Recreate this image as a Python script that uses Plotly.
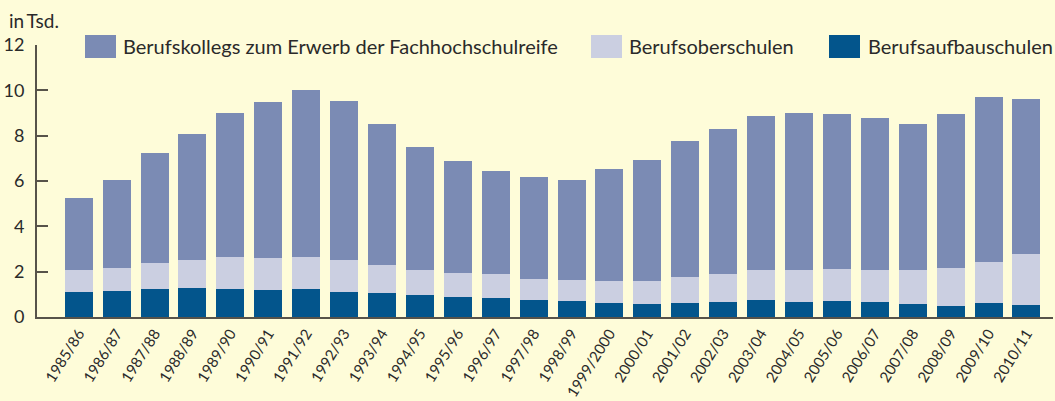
import plotly.graph_objects as go

years = ["1985/86", "1986/87", "1987/88", "1988/89", "1989/90", "1990/91", "1991/92",
         "1992/93", "1993/94", "1994/95", "1995/96", "1996/97", "1997/98", "1998/99",
         "1999/2000", "2000/01", "2001/02", "2002/03", "2003/04", "2004/05", "2005/06",
         "2006/07", "2007/08", "2008/09", "2009/10", "2010/11"]

# Berufsaufbauschulen (bottom segment)
aufbau = [1.09, 1.14, 1.22, 1.27, 1.22, 1.18, 1.22, 1.09, 1.05, 0.96, 0.87, 0.83, 0.74,
          0.69, 0.60, 0.56, 0.60, 0.65, 0.74, 0.65, 0.69, 0.65, 0.56, 0.47, 0.60, 0.52]
# cumulative top of Berufsoberschulen segment
ober_top = [2.07, 2.15, 2.38, 2.51, 2.64, 2.60, 2.64, 2.51, 2.29, 2.07, 1.93, 1.89, 1.67,
            1.62, 1.58, 1.58, 1.76, 1.89, 2.07, 2.07, 2.11, 2.07, 2.07, 2.15, 2.42, 2.77]
# total
total = [5.25, 6.05, 7.24, 8.08, 9.00, 9.50, 10.03, 9.55, 8.52, 7.51, 6.89, 6.45, 6.18,
         6.05, 6.54, 6.93, 7.77, 8.30, 8.87, 9.00, 8.96, 8.78, 8.52, 8.96, 9.71, 9.62]

ober = [round(t - a, 2) for t, a in zip(ober_top, aufbau)]
kolleg = [round(t - o, 2) for t, o in zip(total, ober_top)]

series_names = ["Berufskollegs zum Erwerb der Fachhochschulreife", "Berufsoberschulen",
                "Berufsaufbauschulen"]
c_kolleg, c_ober, c_aufbau = "#7B8BB4", "#CBCFE1", "#03558C"
bg = "#FEFCD9"
txt = "#2a2a2a"
font = "Lato"

x = list(range(len(years)))
fig = go.Figure()
fig.add_bar(x=x, y=aufbau, name=series_names[2], marker_color=c_aufbau, marker_line_width=0)
fig.add_bar(x=x, y=ober, name=series_names[1], marker_color=c_ober, marker_line_width=0)
fig.add_bar(x=x, y=kolleg, name=series_names[0], marker_color=c_kolleg, marker_line_width=0)

W, H = 1055, 401
L, R, T, B = 37, 2, 45, 84
pw, ph = W - L - R, H - T - B

def px2paper(px, py):
    return (px - L) / pw, (H - B - py) / ph

fig.update_layout(
    width=W, height=H, barmode="stack", bargap=0.26, showlegend=False,
    paper_bgcolor=bg, plot_bgcolor=bg,
    margin=dict(l=L, r=R, t=T, b=B, pad=0, autoexpand=False),
    font=dict(family=font, color=txt),
    xaxis=dict(tickmode="array", tickvals=x, ticktext=years, range=[-1.1, 25.7],
               tickangle=-58, tickfont=dict(size=15, color=txt), ticks="",
               showline=True, linecolor="#57534a", linewidth=2, showgrid=False,
               zeroline=False, automargin=False),
    yaxis=dict(range=[0, 12], tickvals=[0, 2, 4, 6, 8, 10, 12], ticks="inside",
               ticklen=11, tickwidth=2, tickcolor="#57534a",
               tickfont=dict(size=18, color=txt), showline=True, linecolor="#57534a",
               linewidth=2, showgrid=False, zeroline=False, ticklabelstandoff=7,
               automargin=False),
)

# manual legend
legend_items = [(85, 116, 123, series_names[0], c_kolleg),
                (591, 622, 629, series_names[1], c_ober),
                (829, 860, 868, series_names[2], c_aufbau)]
for x0p, x1p, tx, name, col in legend_items:
    ax0, ay0 = px2paper(x0p, 58)
    ax1, ay1 = px2paper(x1p, 35)
    fig.add_shape(type="rect", xref="paper", yref="paper", x0=ax0, x1=ax1, y0=ay0, y1=ay1,
                  fillcolor=col, line_width=0)
    tx_, ty_ = px2paper(tx - 2, 46.5)
    fig.add_annotation(xref="paper", yref="paper", x=tx_, y=ty_, text=name, showarrow=False,
                       xanchor="left", yanchor="middle", font=dict(size=20, color=txt, family=font))

ux, uy = px2paper(7, 20)
fig.add_annotation(xref="paper", yref="paper", x=ux, y=uy, text="in\u2009Tsd.", showarrow=False,
                   xanchor="left", yanchor="middle", font=dict(size=19, color=txt, family=font))

fig.write_html("out.html", config={"displayModeBar": False},
               post_script="document.body.style.margin='0';document.body.style.padding='0';")
